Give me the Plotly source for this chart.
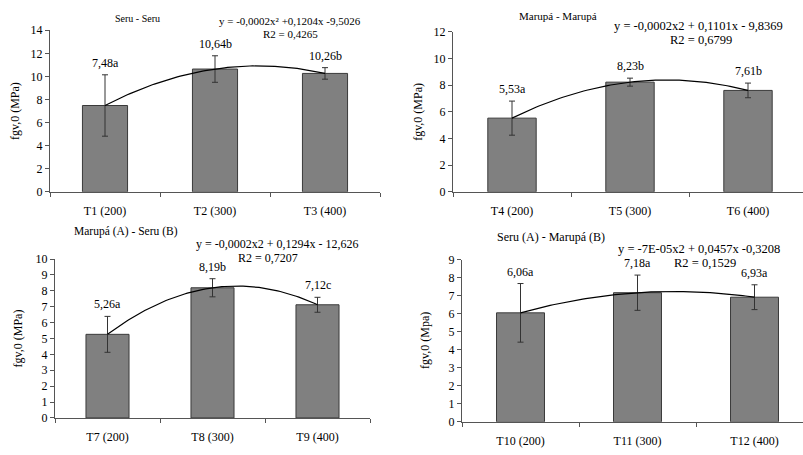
import numpy as np
import plotly.graph_objects as go

W, H = 803, 455

# ---------------- data ----------------
cats1 = ["T1 (200)", "T2 (300)", "T3 (400)"]
means1 = [7.48, 10.64, 10.26]
err1 = [2.66, 1.15, 0.50]
labels1 = ["7,48a", "10,64b", "10,26b"]
title1 = "Seru - Seru"
eq1 = "y = -0,0002x² +0,1204x -9,5026"
r2_1 = "R2 = 0,4265"

cats2 = ["T4 (200)", "T5 (300)", "T6 (400)"]
means2 = [5.53, 8.23, 7.61]
err2 = [1.28, 0.30, 0.55]
labels2 = ["5,53a", "8,23b", "7,61b"]
title2 = "Marupá - Marupá"
eq2 = "y = -0,0002x2 + 0,1101x - 9,8369"
r2_2 = "R2 = 0,6799"

cats3 = ["T7 (200)", "T8 (300)", "T9 (400)"]
means3 = [5.26, 8.19, 7.12]
err3 = [1.13, 0.57, 0.47]
labels3 = ["5,26a", "8,19b", "7,12c"]
title3 = "Marupá (A) - Seru (B)"
eq3 = "y = -0,0002x2 + 0,1294x - 12,626"
r2_3 = "R2 = 0,7207"

cats4 = ["T10 (200)", "T11 (300)", "T12 (400)"]
means4 = [6.06, 7.18, 6.93]
err4 = [1.63, 0.98, 0.69]
labels4 = ["6,06a", "7,18a", "6,93a"]
title4 = "Seru (A) - Marupá (B)"
eq4 = "y = -7E-05x2 + 0,0457x -0,3208"
r2_4 = "R2 = 0,1529"

ytitles = ["fgv,0 (MPa)", "fgv,0 (MPa)", "fgv,0 (MPa)", "fgv,0 (Mpa)"]
ymax = [14, 12, 10, 9]
ydtick = [2, 2, 1, 1]

# ---------------- layout geometry (pixels) ----------------
geo = [
    (50, 380, 190.7, 24.0),
    (453, 807, 190.7, 25.7),
    (55, 370, 424.0, 260.0),
    (462, 813, 428.0, 261.0),
]
texts = [
    ((137, 12), (290, 14), (290, 28), 15),
    ((558, 9), (698, 20), (701, 34.5), 418),
    ((126, 232), (277, 245), (268, 258.5), 18),
    ((551, 237), (699, 249.5), (705, 264), 425),
]
title_sizes = [10, 11, 11.5, 12]
eq_sizes = [11, 12.5, 12, 12.5]

FONT = "Liberation Serif, Times New Roman, serif"
BAR = "#808080"
EDGE = "#3a3a3a"
AX = "#555555"

panels = [
    (cats1, means1, err1, labels1, title1, eq1, r2_1),
    (cats2, means2, err2, labels2, title2, eq2, r2_2),
    (cats3, means3, err3, labels3, title3, eq3, r2_3),
    (cats4, means4, err4, labels4, title4, eq4, r2_4),
]

fig = go.Figure()
annotations = []
layout = {}

for i, (cats, means, errs, labs, ttl, eq, r2) in enumerate(panels):
    k = i + 1
    xa = "x" if k == 1 else f"x{k}"
    ya = "y" if k == 1 else f"y{k}"
    xl, xr, y0, yt = geo[i]
    cw = (xr - xl) / 3.0
    dom_right = min(xr, W)
    xrange_hi = -0.5 + (dom_right - xl) / cw
    y_dom0 = 1 - y0 / H
    y_dom1 = 1 - yt / H

    xs = list(range(len(cats)))
    fig.add_trace(go.Bar(
        x=xs, y=means, width=0.41,
        marker=dict(color=BAR, line=dict(color=EDGE, width=1)),
        error_y=dict(type="data", array=errs, visible=True,
                     color="#333333", thickness=1, width=3),
        xaxis=xa, yaxis=ya, showlegend=False, hoverinfo="skip",
    ))
    coef = np.polyfit(xs, means, 2)
    xx = np.linspace(0, 2, 80)
    fig.add_trace(go.Scatter(
        x=xx, y=np.polyval(coef, xx), mode="lines",
        line=dict(color="black", width=1.2),
        xaxis=xa, yaxis=ya, showlegend=False, hoverinfo="skip",
    ))

    xkey = "xaxis" if k == 1 else f"xaxis{k}"
    ykey = "yaxis" if k == 1 else f"yaxis{k}"
    layout[xkey] = dict(
        domain=[xl / W, dom_right / W], range=[-0.5, xrange_hi],
        anchor=ya, tickmode="array", tickvals=xs, ticktext=cats,
        ticks="", showgrid=False, zeroline=False,
        showline=True, linecolor=AX, linewidth=1,
        minor=dict(tickmode="linear", tick0=0.5, dtick=1, ticks="outside",
                   ticklen=4, tickcolor=AX, showgrid=False),
        tickfont=dict(family=FONT, size=12, color="black"),
        ticklabelstandoff=8,
    )
    layout[ykey] = dict(
        domain=[y_dom0, y_dom1], range=[0, ymax[i]], anchor=xa,
        dtick=ydtick[i], tick0=0, ticks="outside", ticklen=4, tickcolor=AX,
        showgrid=False, zeroline=False, showline=True, linecolor=AX,
        linewidth=1, tickfont=dict(family=FONT, size=12, color="black"),
    )

    for j in xs:
        annotations.append(dict(
            x=j, y=means[j] + errs[j], xref=xa, yref=ya, text=labs[j],
            showarrow=False, yanchor="bottom", yshift=3,
            font=dict(family=FONT, size=12, color="black"),
        ))

    (tx, ty), (ex, ey), (rx, ry), ytx = texts[i]
    for (px, py, txt, fs) in [(tx, ty, ttl, title_sizes[i]),
                              (ex, ey, eq, eq_sizes[i]),
                              (rx, ry, r2, eq_sizes[i])]:
        annotations.append(dict(
            x=px / W, y=1 - py / H, xref="paper", yref="paper", text=txt,
            showarrow=False, xanchor="center", yanchor="middle",
            font=dict(family=FONT, size=fs, color="black"),
        ))
    annotations.append(dict(
        x=ytx / W, y=(y_dom0 + y_dom1) / 2, xref="paper", yref="paper",
        text=ytitles[i], textangle=-90, showarrow=False,
        xanchor="center", yanchor="middle",
        font=dict(family=FONT, size=12, color="black"),
    ))

fig.update_layout(
    width=W, height=H, margin=dict(l=0, r=0, t=0, b=0),
    paper_bgcolor="white", plot_bgcolor="white",
    annotations=annotations, bargap=0.5, **layout,
)

fig.write_html("out.html")
